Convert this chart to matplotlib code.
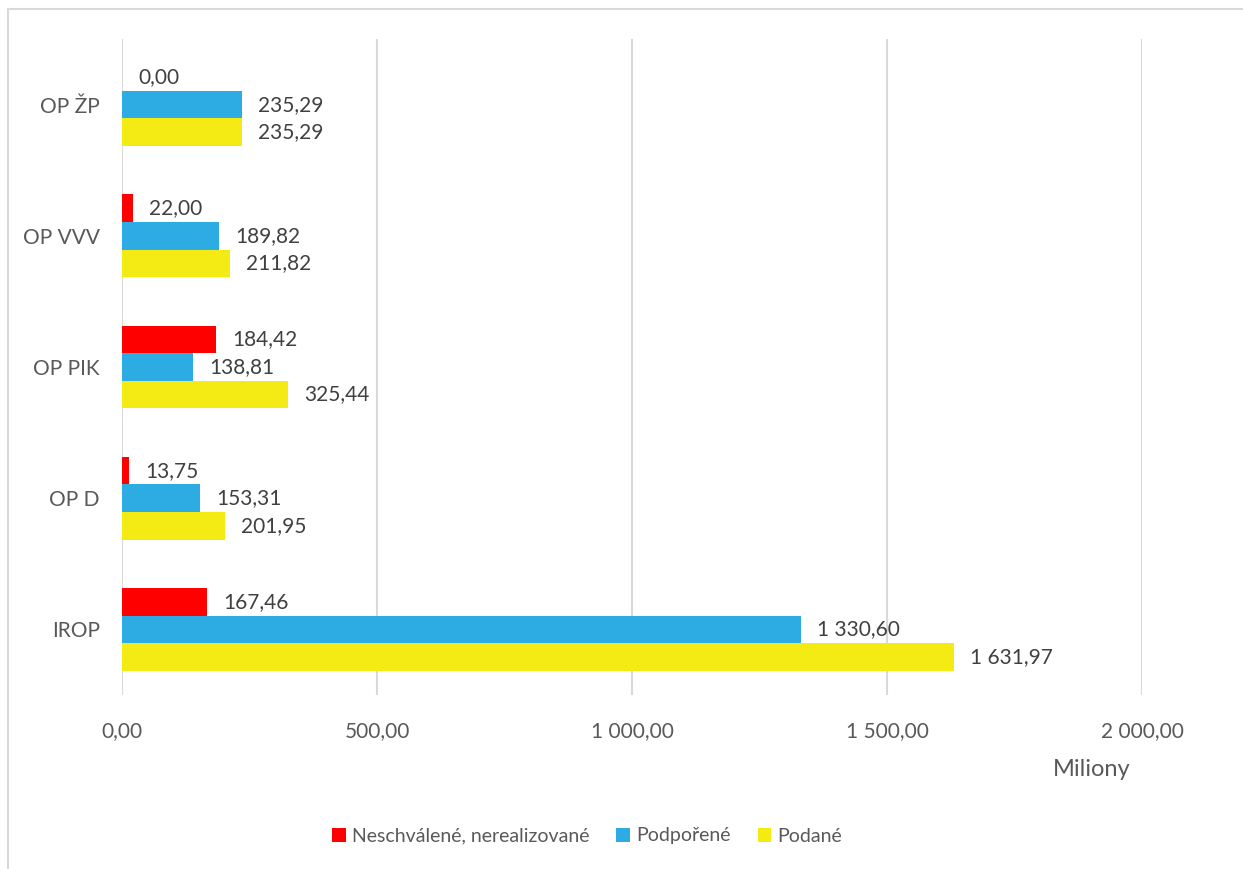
import matplotlib.pyplot as plt
import numpy as np
from matplotlib.patches import Rectangle

# Data (Miliony)
kategorie = ['IROP', 'OP D', 'OP PIK', 'OP VVV', 'OP ŽP']
neschvalene = [167.46, 13.75, 184.42, 22.00, 0.00]
podporene = [1330.60, 153.31, 138.81, 189.82, 235.29]
podane = [1631.97, 201.95, 325.44, 211.82, 235.29]
serie_nazvy = ['Neschválené, nerealizované', 'Podpořené', 'Podané']
barvy = ['#FF0000', '#2CACE3', '#F5EB14']

plt.rcParams['font.family'] = ['Lato', 'DejaVu Sans']
seda = '#595959'


def fmt(v):
    s = f"{v:,.2f}"
    return s.replace(',', ' ').replace('.', ',')


fig = plt.figure(figsize=(12.43, 8.69), dpi=100)
ax = fig.add_axes([122 / 1243, 1 - 695 / 869, (1142 - 122) / 1243, (695 - 39) / 869])

y = np.arange(len(kategorie))
h = 0.21
serie = [neschvalene, podporene, podane]
for i, (hodnoty, nazev, barva) in enumerate(zip(serie, serie_nazvy, barvy)):
    pos = y + h * (1 - i)
    ax.barh(pos, hodnoty, height=h, color=barva, label=nazev, zorder=3)
    for p, v in zip(pos, hodnoty):
        ax.annotate(fmt(v), (v, p), xytext=(16, 0), textcoords='offset pixels',
                    va='center', ha='left', fontsize=15, color='#404040')

ax.set_xlim(0, 2000)
ax.set_ylim(-0.5, len(kategorie) - 0.5)
ax.set_xticks([0, 500, 1000, 1500, 2000])
ax.set_xticklabels([fmt(t) for t in [0, 500, 1000, 1500, 2000]], fontsize=15, color=seda)
ax.set_yticks(y)
ax.set_yticklabels(kategorie, fontsize=15, color=seda)
ax.tick_params(axis='both', length=0)
ax.tick_params(axis='x', pad=19)
ax.tick_params(axis='y', pad=16)
ax.grid(axis='x', color='#D9D9D9', linewidth=1.5, zorder=0)
for s in ax.spines.values():
    s.set_visible(False)

fig.text(1092 / 1243, 1 - 770 / 869, 'Miliony', ha='center', va='center',
         fontsize=17, color=seda)

fig.legend(loc='center', bbox_to_anchor=(587 / 1243, 1 - 836 / 869), ncol=3,
           frameon=False, fontsize=14, handlelength=0.7, handleheight=0.7,
           handletextpad=0.3, columnspacing=1.4, labelcolor=seda)

# chart border (left and top visible)
fig.patches.append(Rectangle((8 / 1243, -0.1), 1.2, 1 - 9 / 869 + 0.1,
                             transform=fig.transFigure, fill=False,
                             edgecolor='#D9D9D9', linewidth=1.5))

fig.savefig('out.png', dpi=100)
